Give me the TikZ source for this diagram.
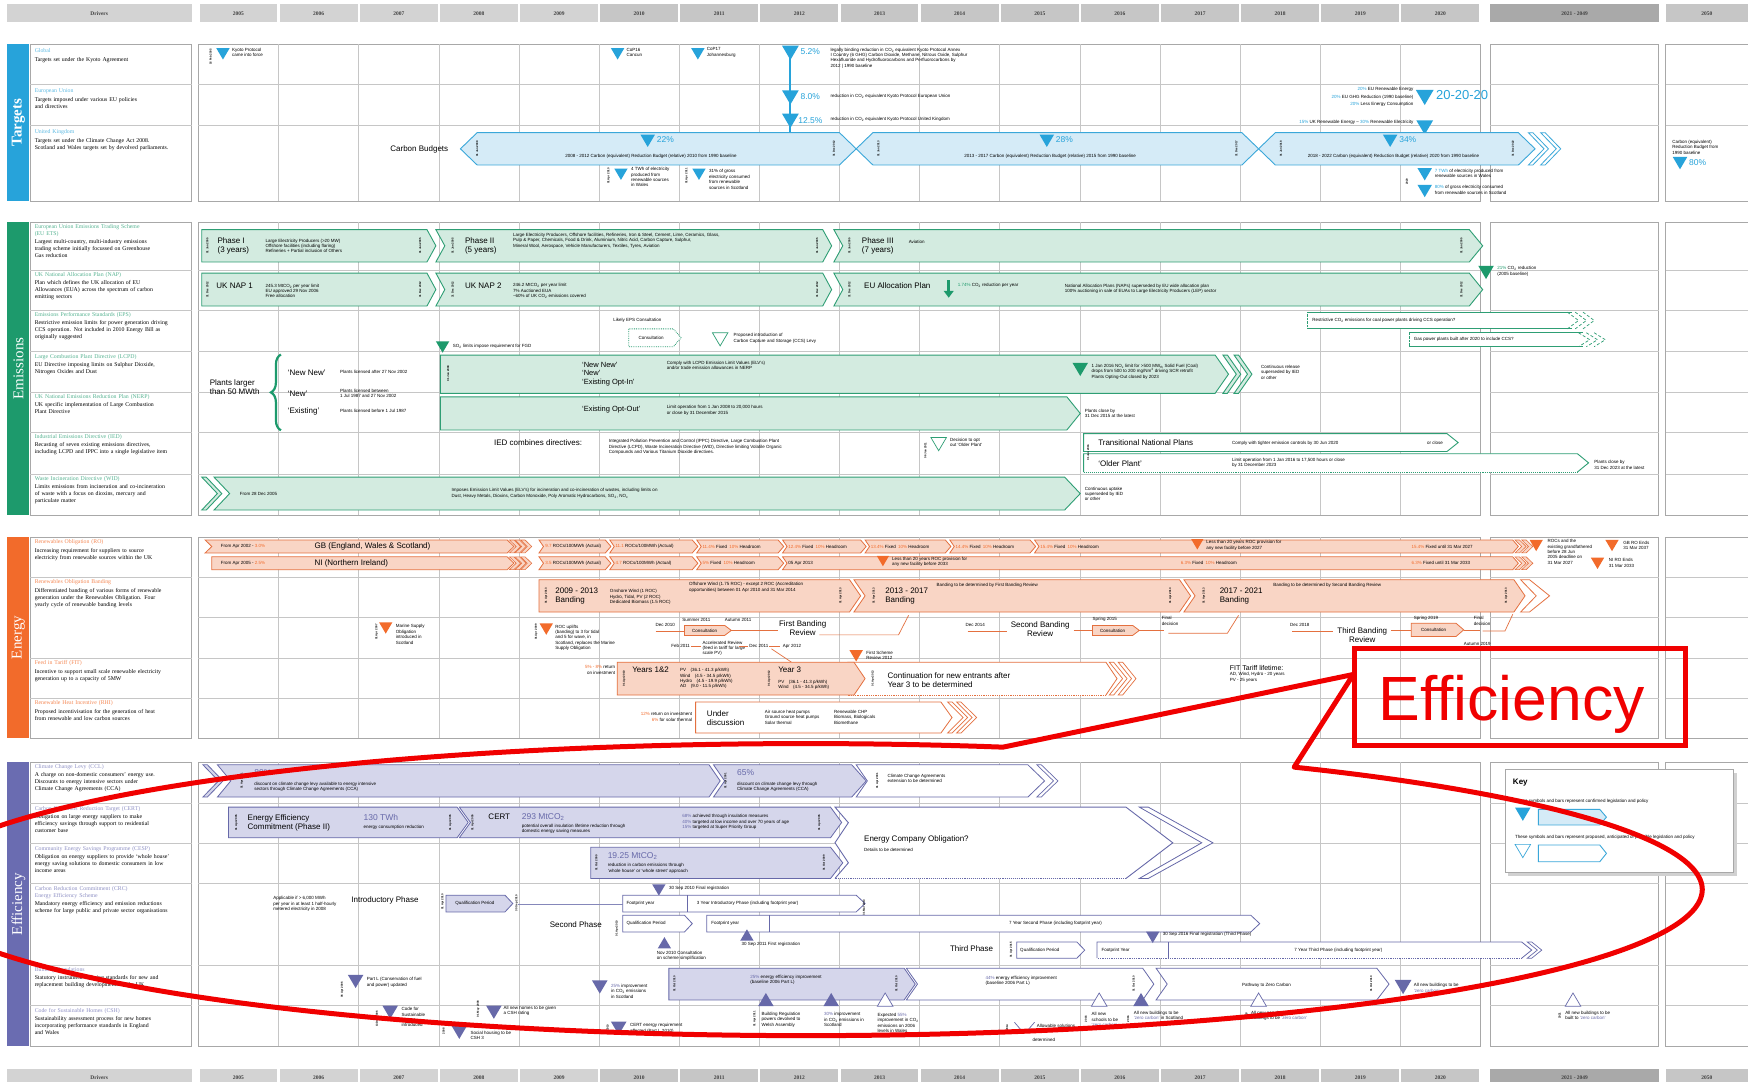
\documentclass[tikz,border=0pt]{standalone}
\usepackage{fontspec}
\setmainfont{Liberation Serif}
\setsansfont{Liberation Sans}
\usetikzlibrary{decorations.pathreplacing}
\definecolor{tbar}{HTML}{27A3DA}
\definecolor{tline}{HTML}{3AA7D9}
\definecolor{tfill}{HTML}{D5EBF7}
\definecolor{gbar}{HTML}{1D9A6C}
\definecolor{gline}{HTML}{2E9E74}
\definecolor{gfill}{HTML}{D3EBE0}
\definecolor{obar}{HTML}{F26B2B}
\definecolor{oline}{HTML}{E4703F}
\definecolor{ofill}{HTML}{F9D5C5}
\definecolor{pbar}{HTML}{6A6CB1}
\definecolor{pline}{HTML}{6769A9}
\definecolor{pfill}{HTML}{D5D6EB}
\definecolor{gridc}{HTML}{C6C6C6}
\definecolor{boxc}{HTML}{A8A8A8}
\definecolor{hdra}{HTML}{D3D3D3}
\definecolor{hdrb}{HTML}{C6C6C6}
\definecolor{hdrc}{HTML}{A9A9A9}
\definecolor{redc}{HTML}{F00000}
\newcounter{nd}
\newcommand\tri[4]{\fill[#1] ({#2-#4},{#3-0.8*#4}) -- ({#2+#4},{#3-0.8*#4}) -- (#2,{#3+0.9*#4}) -- cycle;}
\newcommand\htri[4]{\draw[#1,fill=white,line width=0.7pt] ({#2-#4},{#3-0.8*#4}) -- ({#2+#4},{#3-0.8*#4}) -- (#2,{#3+0.9*#4}) -- cycle;}
\newcommand\utri[4]{\fill[#1] ({#2-#4},{#3+0.8*#4}) -- ({#2+#4},{#3+0.8*#4}) -- (#2,{#3-0.9*#4}) -- cycle;}
\newcommand\hutri[4]{\draw[#1,fill=white,line width=0.7pt] ({#2-#4},{#3+0.8*#4}) -- ({#2+#4},{#3+0.8*#4}) -- (#2,{#3-0.9*#4}) -- cycle;}
\newcommand\chev[7]{\draw[#1] (#2,#4) -- (#3,#4) -- ({#3+(#7)},{(#4+#5)/2}) -- (#3,#5) -- (#2,#5) -- ({#2+(#6)},{(#4+#5)/2}) -- cycle;}
\newcommand\ochev[5]{\draw[#1] (#2,#3) -- ({#2+4},#3) -- ({#2+4+(#5)},{(#3+#4)/2}) -- ({#2+4},#4) -- (#2,#4) -- ({#2+(#5)},{(#3+#4)/2}) -- cycle;}
\newcommand\hdrrow[2]{%
  \fill[hdra] (6,#1) rectangle (172,#2);
  \node[hd] at (89,{(#1+#2)/2}) {Drivers};
  \foreach \yr [count=\k from 0] in {2005,...,2020}{%
    \ifnum\yr<2010 \def\hc{hdra}\else\def\hc{hdrb}\fi
    \fill[\hc] ({178+71.875*\k+1},#1) rectangle ({178+71.875*(\k+1)-1},#2);
    \node[hd] at ({178+71.875*(\k+0.5)},{(#1+#2)/2}) {\yr};}
  \fill[hdrc] (1337,#1) rectangle (1488,#2);
  \node[hd] at (1412.5,{(#1+#2)/2}) {2021 - 2049};
  \fill[hdrb] (1494,#1) rectangle (1580,#2);
  \node[hd] at (1531,{(#1+#2)/2}) {2050};}
\newcommand\secgrid[3]{%
  \draw[boxc,line width=0.7pt] (178,#1) rectangle (1328,#2);
  \foreach \k in {1,...,15}{\draw[gridc,line width=0.6pt] ({178+71.875*\k},#1) -- ({178+71.875*\k},#2);}
  \draw[boxc,line width=0.7pt] (1337,#1) rectangle (1488,#2);
  \draw[boxc,line width=0.7pt] (1494,#1) rectangle (1580,#2);
  \foreach \r in {#3}{\draw[gridc,line width=0.6pt] (178,\r) -- (1328,\r) (1337,\r) -- (1488,\r) (1494,\r) -- (1580,\r);}}
\newcommand\secdesc[3]{%
  \draw[boxc,line width=0.7pt] (27,#1) rectangle (172,#2);
  \foreach \r in {#3}{\draw[gridc,line width=0.6pt] (27,\r) -- (172,\r);}}
\newcommand\secbar[5]{%
  \fill[#3] (6,#1) rectangle (26,#2);
  \node[rotate=90,text=white,inner sep=0pt,font=#5] at (16.5,{(#1+#2)/2}) {#4};}
\begin{document}
\begin{tikzpicture}[x=1.1148pt,y=-1.1148pt,
  every node/.append style={/utils/exec={\stepcounter{nd}},name=nd\arabic{nd}},
  hd/.style={font=\rmfamily\bfseries\fontsize{5.5}{6}\selectfont,text=black!75,inner sep=0pt},
  tn/.style={font=\sffamily\fontsize{4.5}{5.4}\selectfont,inner sep=0pt,anchor=west,align=left},
  tnc/.style={tn,anchor=center,align=center},
  tne/.style={tn,anchor=east,align=right},
  lb/.style={font=\sffamily\fontsize{8}{9}\selectfont,inner sep=0pt,anchor=west,align=left},
  lbc/.style={lb,anchor=center,align=center},
  pc/.style={font=\sffamily\fontsize{8.5}{9}\selectfont,inner sep=0pt,anchor=west},
  mkst/.style={font=\sffamily\bfseries\fontsize{2.8}{3}\selectfont,rotate=90,inner sep=0pt},
  dt/.style={font=\rmfamily\fontsize{5.8}{7}\selectfont,anchor=north west,align=left,text width=156pt,inner sep=0pt},
  bandT/.style={draw=tline,fill=tfill,line width=0.9pt},
  bandG/.style={draw=gline,fill=gfill,line width=0.9pt},
  bandGw/.style={draw=gline,fill=white,line width=0.9pt},
  bandO/.style={draw=oline,fill=ofill,line width=0.8pt},
  bandOw/.style={draw=oline,fill=white,line width=0.8pt},
  bandP/.style={draw=pline,fill=pfill,line width=0.8pt},
  bandPw/.style={draw=pline,fill=white,line width=0.8pt},
  smallO/.style={draw=oline,fill=ofill,line width=0.6pt},
  oconn/.style={draw=oline,line width=0.7pt},
  pconn/.style={draw=pline!80,line width=0.8pt}]
\useasboundingbox (0,0) rectangle (1568,970);
\clip (0,0) rectangle (1568,970);
\fill[white] (0,0) rectangle (1568,970);
\hdrrow{4}{20}
\hdrrow{959}{975}
% ================= TARGETS
\secbar{39.5}{180.3}{tbar}{Targets}{\rmfamily\bfseries\fontsize{15}{15}\selectfont}
\secdesc{39.5}{180.3}{75.4,112.1}
\secgrid{39.5}{180.3}{75.4,112.1}
\node[dt] at (31,43) {\textcolor{tbar!75}{Global}\\[2pt]Targets set under the Kyoto Agreement};
\node[dt] at (31,79) {\textcolor{tbar!75}{European Union}\\[2pt]Targets imposed under various EU policies\\and directives};
\node[dt] at (31,116) {\textcolor{tbar!75}{United Kingdom}\\[2pt]Targets set under the Climate Change Act 2008.\\Scotland and Wales targets set by devolved parliaments.};
\node[mkst] at (189,51) {16 Feb 2005};
\tri{tbar}{200}{48}{6}
\node[tn] at (208,47) {Kyoto Protocol\\came into force};
\tri{tbar}{554}{48}{6}
\node[tn] at (562,47) {CoP16\\Cancun};
\tri{tbar}{626}{48}{6}
\node[tn] at (634,47) {CoP17\\Johannesburg};
\draw[tbar,line width=1.8pt] (709,48) -- (709,120);
\tri{tbar}{709}{47}{7.5}
\node[pc,text=tbar] at (718,46) {5.2\%};
\node[tn] at (745,52) {legally binding reduction in CO\textsubscript{2} equivalent Kyoto Protocol Annex\\I Country (6 GHG) Carbon Dioxide, Methane, Nitrous Oxide, Sulphur\\Hexafluoride and Hydrofluorocarbons and Perfluorocarbons by\\2012 | 1990 baseline};
\tri{tbar}{709}{87}{7.5}
\node[pc,text=tbar] at (718,87) {8.0\%};
\node[tn] at (745,86) {reduction in CO\textsubscript{2} equivalent Kyoto Protocol European Union};
\tri{tbar}{709}{108}{7.5}
\node[pc,text=tbar] at (716,108) {12.5\%};
\node[tn] at (745,107) {reduction in CO\textsubscript{2} equivalent Kyoto Protocol United Kingdom};
\tri{tbar}{1278}{87}{8}
\node[pc,text=tbar,font=\sffamily\fontsize{13}{13}\selectfont] at (1288,85) {20-20-20};
\node[tne] at (1268,80.5) {\textcolor{tbar}{20\%} EU Renewable Energy};
\node[tne] at (1268,87) {\textcolor{tbar}{20\%} EU GHG Reduction (1990 baseline)};
\node[tne] at (1268,94) {\textcolor{tbar}{20\%} Less Energy Consumption};
\node[tne] at (1268,110) {\textcolor{tbar}{15\%} UK Renewable Energy -- \textcolor{tbar}{30\%} Renewable Electricity};
\tri{tbar}{1278}{114}{7.5}
% carbon budgets
\node[lb] at (350,134) {Carbon Budgets};
\draw[bandT] (413,133.5) -- (428,119) -- (753,119) -- (768,133.5) -- (753,148) -- (428,148) -- cycle;
\draw[bandT] (768,133.5) -- (783,119) -- (1114,119) -- (1129,133.5) -- (1114,148) -- (783,148) -- cycle;
\draw[bandT] (1129,133.5) -- (1144,119) -- (1362,119) -- (1377,133.5) -- (1362,148) -- (1144,148) -- cycle;
\ochev{draw=tline,fill=white,line width=0.8pt}{1371}{119}{148}{14}
\ochev{draw=tline,fill=white,line width=0.8pt}{1382}{119}{148}{14}
\foreach \mx/\mt in {428/01 Jan 2008,748/31 Dec 2012,788/01 Jan 2013,1109/31 Dec 2017,1149/01 Jan 2018,1357/31 Dec 2022}{\node[mkst] at (\mx,133.5) {\mt};}
\tri{tbar}{581}{126}{6.5}
\node[pc,text=tbar] at (589,125.5) {22\%};
\node[tnc] at (584,140.5) {2008 - 2012 Carbon (equivalent) Reduction Budget (relative) 2010 from 1990 baseline};
\tri{tbar}{939}{126}{6.5}
\node[pc,text=tbar] at (947,125.5) {28\%};
\node[tnc] at (942,140.5) {2013 - 2017 Carbon (equivalent) Reduction Budget (relative) 2015 from 1990 baseline};
\tri{tbar}{1247}{126}{6.5}
\node[pc,text=tbar] at (1255,125.5) {34\%};
\node[tnc] at (1250,140.5) {2018 - 2022 Carbon (equivalent) Reduction Budget (relative) 2020 from 1990 baseline};
\node[mkst] at (546,158) {01 Apr 2010};
\tri{tbar}{557}{156}{6}
\node[tn] at (566,159) {4 TWh of electricity\\produced from\\renewable sources\\in Wales};
\node[mkst] at (616,158) {01 Apr 2011};
\tri{tbar}{627}{156}{6}
\node[tn] at (636,161) {31\% of gross\\electricity consumed\\from renewable\\sources in Scotland};
\node[mkst] at (1262,163) {2020};
\tri{tbar}{1278}{156}{6.5}
\node[tn] at (1287,155.5) {\textcolor{tbar}{7 TWh} of electricity produced from\\renewable sources in Wales};
\tri{tbar}{1278}{171}{6.5}
\node[tn] at (1287,170.5) {\textcolor{tbar}{80\%} of gross electricity consumed\\from renewable sources in Scotland};
\node[tn] at (1500,132) {Carbon (equivalent)\\Reduction Budget from\\1990 baseline};
\tri{tbar}{1507}{146}{6.5}
\node[pc,text=tbar] at (1515,145.5) {80\%};
% ================= EMISSIONS
\secbar{199.1}{462}{gbar}{Emissions}{\rmfamily\fontsize{15}{15}\selectfont}
\secdesc{199.1}{462}{242.2,278.1,314.9,351.6,387.5,425.2}
\secgrid{199.1}{462}{242.2,278.1,314.9,351.6,387.5,425.2}
\node[dt] at (31,201.5) {\textcolor{gbar!75}{European Union Emissions Trading Scheme\\(EU ETS)}\\[1pt]Largest multi-country, multi-industry emissions\\trading scheme initially focussed on Greenhouse\\Gas reduction};
\node[dt] at (31,244.5) {\textcolor{gbar!75}{UK National Allocation Plan (NAP)}\\[1pt]Plan which defines the UK allocation of EU\\Allowances (EUA) across the spectrum of carbon\\emitting sectors};
\node[dt] at (31,280.5) {\textcolor{gbar!75}{Emissions Performance Standards (EPS)}\\[1pt]Restrictive emission limits for power generation driving\\CCS operation. Not included in 2010 Energy Bill as\\originally suggested};
\node[dt] at (31,317.5) {\textcolor{gbar!75}{Large Combustion Plant Directive (LCPD)}\\[1pt]EU Directive imposing limits on Sulphur Dioxide,\\Nitrogen Oxides and Dust};
\node[dt] at (31,354) {\textcolor{gbar!75}{UK National Emissions Reduction Plan (NERP)}\\[1pt]UK specific implementation of Large Combustion\\Plant Directive};
\node[dt] at (31,390) {\textcolor{gbar!75}{Industrial Emissions Directive (IED)}\\[1pt]Recasting of seven existing emissions directives,\\including LCPD and IPPC into a single legislative item};
\node[dt] at (31,427.5) {\textcolor{gbar!75}{Waste Incineration Directive (WID)}\\[1pt]Limits emissions from incineration and co-incineration\\of waste with a focus on dioxins, mercury and\\particulate matter};
% EU ETS
\chev{bandG}{181}{383}{206}{235}{0}{8}
\chev{bandG}{391}{738}{206}{235}{8}{8}
\chev{bandG}{748}{1318}{206}{235}{8}{12}
\node[lb] at (195,220.5) {Phase I\\(3 years)};
\node[tn] at (238,220.5) {Large Electricity Producers (\textgreater20 MW)\\Offshore facilities (including flaring)\\Refineries + Partial inclusion of Others};
\node[lb] at (417,220.5) {Phase II\\(5 years)};
\node[tn] at (460,216) {Large Electricity Producers, Offshore facilities, Refineries, Iron \& Steel, Cement, Lime, Ceramics, Glass,\\Pulp \& Paper, Chemicals, Food \& Drink, Aluminium, Nitric Acid, Carbon Capture, Sulphur,\\Mineral Wool, Aerospace, Vehicle Manufacturers, Textiles, Tyres, Aviation};
\node[lb] at (773,220.5) {Phase III\\(7 years)};
\node[tn] at (815,217) {Aviation};
\foreach \mx in {186,377,406,733,762,1311}{\node[mkst] at (\mx,220.5) {01 Jan 2005};}
% NAP
\chev{bandG}{181}{383}{245}{274.5}{0}{8}
\chev{bandG}{391}{738}{245}{274.5}{8}{8}
\chev{bandG}{748}{1318}{245}{274.5}{8}{12}
\node[lb] at (194,256) {UK NAP 1};
\node[tn] at (238,261) {245.3 MtCO\textsubscript{2} per year limit\\EU approved 29 Nov 2006\\Free allocation};
\node[lb] at (417,256) {UK NAP 2};
\node[tn] at (460,261) {246.2 MtCO\textsubscript{2} per year limit\\7\% Auctioned EUA\\\textasciitilde60\% of UK CO\textsubscript{2} emissions covered};
\node[lb] at (775,256) {EU Allocation Plan};
\fill[gbar] (849.5,251) rectangle (852.5,261);
\fill[gbar] (846.5,261) -- (855.5,261) -- (851,267) -- cycle;
\node[tn] at (859,256) {\textcolor{gbar}{1.74\%} CO\textsubscript{2} reduction per year};
\node[tn] at (955,259) {National Allocation Plans (NAPs) superseded by EU wide allocation plan\\100\% auctioning in sale of EUAs to Large Electricity Producers (LEP) sector};
\foreach \mx in {186,377,406,733,762,1311}{\node[mkst] at (\mx,259.75) {31 Dec 2012};}
\tri{gbar}{1333}{244}{7}
\node[tn] at (1343,243.5) {\textcolor{gbar}{21\%} CO\textsubscript{2} reduction\\(2005 baseline)};
% EPS
\node[tn] at (550,287) {Likely EPS Consultation};
\draw[gline,densely dotted,fill=white,line width=0.8pt] (564,295) -- (604,295) -- (611,303) -- (604,311) -- (564,311) -- cycle;
\node[tnc] at (584,303) {Consultation};
\htri{gline}{646}{304}{7}
\node[tn] at (658,303.5) {Proposed introduction of\\Carbon Capture and Storage (CCS) Levy};
\tri{gbar}{397}{311}{6}
\node[tn] at (406,310.5) {SO\textsubscript{2} limits impose requirement for FGD};
\fill[white] (1173,280) rectangle (1410,295);
\draw[gline,line width=1pt] (1173,280) -- (1410,280) (1173,295) -- (1410,295);
\draw[gline,densely dotted] (1173,280) -- (1173,295);
\foreach \d in {0,7,14}{\draw[gline,densely dashed,line width=0.7pt] ({1406+\d},280) -- ({1416+\d},287.5) -- ({1406+\d},295);}
\node[tn] at (1177,287.5) {Restrictive CO\textsubscript{2} emissions for coal power plants driving CCS operation?};
\fill[white] (1264,298.5) rectangle (1420,311);
\draw[gline,line width=1pt] (1264,298.5) -- (1420,298.5) (1264,311) -- (1420,311);
\draw[gline,densely dotted] (1264,298.5) -- (1264,311);
\foreach \d in {0,7,14}{\draw[gline,densely dashed,line width=0.7pt] ({1416+\d},298.5) -- ({1426+\d},304.75) -- ({1416+\d},311);}
\node[tn] at (1268,304.75) {Gas power plants built after 2020 to include CCS?};
% LCPD / NERP
\node[lb] at (188,347) {Plants larger\\than 50 MWth};
\draw[gbar,line width=2.2pt,decorate,decoration={brace,amplitude=10pt}] (252,386) -- (252,318);
\node[lb] at (258,334) {`New New'};
\node[lb] at (258,353) {`New'};
\node[lb] at (258,369) {`Existing'};
\node[tn] at (305,334) {Plants licensed after 27 Nov 2002};
\node[tn] at (305,353) {Plants licensed between\\1 Jul 1987 and 27 Nov 2002};
\node[tn] at (305,369) {Plants licensed before 1 Jul 1987};
\chev{bandG}{395}{1090}{318.5}{352.8}{0}{12}
\ochev{bandG}{1097}{318.5}{352.8}{12}
\ochev{bandG}{1107}{318.5}{352.8}{12}
\chev{bandG}{395}{957}{356}{385.7}{0}{12}
\node[mkst] at (402,335) {01 Jan 2008};
\node[lb,font=\sffamily\fontsize{7.5}{8.5}\selectfont] at (522,335.5) {`New New'\\`New'\\`Existing Opt-In'};
\node[tn] at (598,328) {Comply with LCPD Emission Limit Values (ELV's)\\and/or trade emission allowances in NERP};
\tri{gbar}{969}{331}{7}
\node[tn] at (979,333.5) {1 Jan 2016 NO\textsubscript{x} limit for \textgreater500 MW\textsubscript{th} Solid Fuel (Coal)\\drops from 500 to 200 mg/Nm\textsuperscript{3} driving SCR retrofit\\Plants Opting-Out closed by 2023};
\node[tn] at (1131,334) {Continuous release\\superseded by IED\\or other};
\node[lb,font=\sffamily\fontsize{7.5}{8.5}\selectfont] at (522,367) {`Existing Opt-Out'};
\node[tn] at (598,368) {Limit operation from 1 Jan 2008 to 20,000 hours\\or close by 31 December 2015};
\node[tn] at (973,371) {Plants close by\\31 Dec 2015 at the latest};
% IED
\node[lb] at (443,397) {IED combines directives:};
\node[tn] at (546,401) {Integrated Pollution Prevention and Control (IPPC) Directive, Large Combustion Plant\\Directive (LCPD), Waste Incineration Directive (WID), Directive limiting Volatile Organic\\Compounds and Various Titanium Dioxide directives.};
\node[mkst] at (830,404) {06 Jan 2011};
\htri{gline}{842}{398}{7}
\node[tn] at (852,397) {Decision to opt\\out `Older Plant'};
\chev{bandGw}{972}{1298}{389}{405}{0}{10}
\fill[white] (972,407) -- (1415,407) -- (1425,415.2) -- (1415,423.4) -- (972,423.4) -- cycle;
\draw[gline,line width=0.9pt] (972,423.4) -- (972,407) -- (1415,407) -- (1425,415.2) -- (1415,423.4);
\draw[gline,densely dotted,line width=0.9pt] (1415,423.4) -- (972,423.4);
\node[mkst] at (976,406) {01 Jan 2016};
\node[lb] at (985,397) {Transitional National Plans};
\node[tn] at (1105,397.5) {Comply with tighter emission controls by 30 Jun 2020};
\node[tn] at (1280,397.5) {or close};
\node[lb] at (985,415.5) {`Older Plant'};
\node[tn] at (1105,415) {Limit operation from 1 Jan 2016 to 17,500 hours or close\\by 31 December 2023};
\node[tn] at (1430,417) {Plants close by\\31 Dec 2023 at the latest};
% WID
\ochev{bandG}{181}{428}{457.5}{14}
\chev{bandG}{192}{955}{428}{457.5}{14}{14}
\node[tn] at (215,443) {From 28 Dec 2005};
\node[tn] at (405,442.5) {Imposes Emission Limit Values (ELV's) for incineration and co-incineration of wastes, including limits on\\Dust, Heavy Metals, Dioxins, Carbon Monoxide, Poly Aromatic Hydrocarbons, SO\textsubscript{2}, NO\textsubscript{x}};
\node[tn] at (973,443) {Continuous uptake\\superseded by IED\\or other};
% ================= ENERGY
\secbar{481.7}{662}{obar}{Energy}{\rmfamily\fontsize{15}{15}\selectfont}
\secdesc{481.7}{662}{517.6,590.2,626.1}
\secgrid{481.7}{662}{517.6,553.5,590.2,626.1}
\node[dt] at (31,484) {\textcolor{obar!80}{Renewables Obligation (RO)}\\[2pt]Increasing requirement for suppliers to source\\electricity from renewable sources within the UK};
\node[dt] at (31,520) {\textcolor{obar!80}{Renewables Obligation Banding}\\[2pt]Differentiated banding of various forms of renewable\\generation under the Renewables Obligation. Four\\yearly cycle of renewable banding levels};
\node[dt] at (31,592.5) {\textcolor{obar!80}{Feed in Tariff (FIT)}\\[2pt]Incentive to support small scale renewable electricity\\generation up to a capacity of 5MW};
\node[dt] at (31,628.5) {\textcolor{obar!80}{Renewable Heat Incentive (RHI)}\\[2pt]Proposed incentivisation for the generation of heat\\from renewable and low carbon sources};
% RO
\draw[bandO] (184,484.4) -- (455,484.4) -- (461,490.2) -- (455,496) -- (184,496) -- (190,490.2) -- cycle;
\draw[bandO] (190,499.5) -- (455,499.5) -- (461,505.2) -- (455,511) -- (190,511) -- cycle;
\foreach \xx in {457,462,467}{\ochev{smallO}{\xx}{484.4}{496}{6}\ochev{smallO}{\xx}{499.5}{511}{6}}
\node[tn] at (198,490.2) {From Apr 2002 - \textcolor{obar}{3.0\%}};
\node[lb] at (282,490.2) {GB (England, Wales \& Scotland)};
\node[tn] at (198,505.2) {From Apr 2005 - \textcolor{obar}{2.5\%}};
\node[lb] at (282,505.2) {NI (Northern Ireland)};
\foreach \a/\b in {483.5/543,547/621,625/698,702/772,776/848,852/924,928/1357}{\chev{bandO}{\a}{\b}{484.4}{496}{4}{5}}
\foreach \a/\b in {483.5/543,547/621,625/698,702/1357}{\chev{bandO}{\a}{\b}{499.5}{511}{4}{5}}
\foreach \xx in {1359,1365}{\ochev{smallO}{\xx}{484.4}{496}{6}\ochev{smallO}{\xx}{499.5}{511}{6}}
\node[tn] at (489,490.2) {\textcolor{obar}{9.7} ROCs/100MWh (Actual)};
\node[tn] at (552,490.2) {\textcolor{obar}{11.1} ROCs/100MWh (Actual)};
\node[tn] at (630,490.2) {\textcolor{obar}{11.4\%} Fixed\enspace\textcolor{obar}{10\%} Headroom};
\node[tn] at (707,490.2) {\textcolor{obar}{12.4\%} Fixed\enspace\textcolor{obar}{10\%} Headroom};
\node[tn] at (781,490.2) {\textcolor{obar}{13.4\%} Fixed\enspace\textcolor{obar}{10\%} Headroom};
\node[tn] at (857,490.2) {\textcolor{obar}{14.4\%} Fixed\enspace\textcolor{obar}{10\%} Headroom};
\node[tn] at (933,490.2) {\textcolor{obar}{15.4\%} Fixed\enspace\textcolor{obar}{10\%} Headroom};
\tri{obar}{1074}{488}{5.5}
\node[tn] at (1082,489) {Less than 20 years ROC provision for\\any new facility before 2027};
\node[tn] at (1266,490.2) {\textcolor{obar}{15.4\%} Fixed until 31 Mar 2027};
\node[tn] at (489,505.2) {\textcolor{obar}{3.5} ROCs/100MWh (Actual)};
\node[tn] at (552,505.2) {\textcolor{obar}{4.7} ROCs/100MWh (Actual)};
\node[tn] at (630,505.2) {\textcolor{obar}{5\%} Fixed\enspace\textcolor{obar}{10\%} Headroom};
\node[tn] at (707,505.2) {05 Apr 2013};
\tri{obar}{792}{503}{5.5}
\node[tn] at (800,504) {Less than 20 years ROC provision for\\any new facility before 2033};
\node[tn] at (1059,505.2) {\textcolor{obar}{6.3\%} Fixed\enspace\textcolor{obar}{10\%} Headroom};
\node[tn] at (1266,505.2) {\textcolor{obar}{6.3\%} Fixed until 31 Mar 2033};
\tri{obar}{1378}{489}{6}
\node[tn] at (1388,495) {ROCs and the\\existing grandfathered\\before 28 Jun\\2005 deadline on\\31 Mar 2027};
\tri{obar}{1446}{489}{6}
\node[tn] at (1456,489) {GB RO Ends\\31 Mar 2037};
\tri{obar}{1433}{505}{6}
\node[tn] at (1443,505) {NI RO Ends\\31 Mar 2033};
% RO banding
\chev{bandO}{483.5}{762}{520}{549}{0}{10}
\chev{bandO}{766}{1058}{520}{549}{10}{10}
\chev{bandO}{1062}{1358}{520}{549}{10}{10}
\draw[oline,fill=white,line width=0.8pt] (1364,520) -- (1372,520) -- (1390,534.5) -- (1372,549) -- (1364,549) -- (1378,534.5) -- cycle;
\foreach \mx in {490,754,784,1050,1080,1351}{\node[mkst] at (\mx,534.5) {01 Apr 2013};}
\node[lb] at (498,534.5) {2009 - 2013\\Banding};
\node[tn] at (547,535.5) {Onshore Wind (1 ROC)\\Hydro, Tidal, PV (2 ROC)\\Dedicated Biomass (1.5 ROC)};
\node[tn] at (618,527) {Offshore Wind (1.75 ROC) - except 2 ROC (Accreditation\\opportunities) between 01 Apr 2010 and 31 Mar 2014};
\node[lb] at (794,534.5) {2013 - 2017\\Banding};
\node[tn] at (840,525) {Banding to be determined by First Banding Review};
\node[lb] at (1094,534.5) {2017 - 2021\\Banding};
\node[tn] at (1142,525) {Banding to be determined by Second Banding Review};
% banding reviews
\node[mkst] at (338,567) {01 Apr 2007};
\tri{obar}{346}{563}{6}
\node[tn] at (355,569) {Marine Supply\\Obligation\\introduced in\\Scotland};
\node[mkst] at (481,567) {01 Apr 2009};
\tri{obar}{490}{564}{6}
\node[tn] at (498,572) {ROC uplifts\\(banding) to 3 for tidal\\and 5 for wave, in\\Scotland, replaces the Marine\\Supply Obligation};
\node[tn] at (588,560.5) {Dec 2010};
\draw[oconn] (588,566) -- (614,566);
\node[tn] at (612,556) {Summer 2011};
\node[tn] at (650,556) {Autumn 2011};
\draw[bandO] (614,561) -- (650,561) -- (656,565.5) -- (650,570) -- (614,570) -- cycle;
\node[tnc] at (632,565.5) {Consultation};
\draw[oconn] (656,565.5) -- (698,565.5);
\node[lbc] at (720,563.5) {First Banding\\Review};
\draw[oconn] (735,569.5) -- (806,569.5) -- (815,552);
\node[tn] at (602,579.5) {Feb 2011};
\draw[oconn] (620,579.5) -- (629,579.5);
\node[tn] at (630,581.5) {Accelerated Review\\(feed in tariff for large\\scale PV)};
\draw[oconn] (663,579.5) -- (671,579.5);
\node[tn] at (672,579.5) {Dec 2011};
\draw[oconn] (690,579.5) -- (700,579.5);
\node[tn] at (702,579.5) {Apr 2012};
\draw[oconn] (692,582) -- (710,594);
\node[tn] at (866,561) {Dec 2014};
\draw[oconn] (868,566) -- (903,566);
\node[lbc] at (933,564) {Second Banding\\Review};
\draw[oconn] (963,565.5) -- (980,565.5);
\node[tn] at (980,556) {Spring 2015};
\draw[bandO] (980,561) -- (1016,561) -- (1022,565.5) -- (1016,570) -- (980,570) -- cycle;
\node[tnc] at (998,565.5) {Consultation};
\draw[oconn] (1022,565.5) -- (1044,565.5);
\node[tn] at (1042,557) {Final\\decision};
\draw[oconn] (1048,568) -- (1101,568) -- (1111,552);
\node[tn] at (1157,561) {Dec 2018};
\draw[oconn] (1159,566) -- (1196,566);
\node[lbc] at (1222,570) {Third Banding\\Review};
\draw[oconn] (1248,565.5) -- (1266,565.5);
\node[tn] at (1268,555) {Spring 2019};
\draw[bandO] (1266,559) -- (1306,559) -- (1313,565) -- (1306,571) -- (1266,571) -- cycle;
\node[tnc] at (1286,565) {Consultation};
\draw[oconn] (1313,565) -- (1328,565);
\node[tn] at (1322,557) {Final\\decision};
\draw[oconn] (1330,566) -- (1350,566) -- (1357,551);
\node[tn] at (1313,578) {Autumn 2019};
% FIT
\node[tne] at (552,601) {\textcolor{obar}{5\% - 8\%} return\\on investment};
\fill[white] (760,594) -- (992,594) -- (1002,608.75) -- (992,623.5) -- (760,623.5) -- cycle;
\draw[oline,line width=0.8pt] (760,594) -- (992,594) -- (1002,608.75) -- (992,623.5);
\draw[oline,densely dotted,line width=0.8pt] (992,623.5) -- (760,623.5);
\ochev{draw=oline,fill=white,line width=0.7pt}{995}{594}{623.5}{12}
\ochev{draw=oline,fill=white,line width=0.7pt}{1003}{594}{623.5}{12}
\chev{bandO}{553.6}{766}{594}{623.5}{0}{10}
\node[mkst] at (560,608.75) {01 Apr 2010};
\node[lb] at (567,601) {Years 1\&2};
\node[tn] at (610,608.75) {PV\quad(36.1 - 41.3 p/kWh)\\Wind\quad(4.5 - 34.5 p/kWh)\\Hydro\quad(4.5 - 19.9 p/kWh)\\AD\quad(9.0 - 11.5 p/kWh)};
\node[mkst] at (690,608.75) {01 Apr 2012};
\node[lb] at (698,601) {Year 3};
\node[tn] at (698,614.5) {PV\quad(36.1 - 41.3 p/kWh)\\Wind\quad(4.5 - 34.5 p/kWh)};
\tri{obar}{768}{588}{6}
\node[tn] at (777,588) {First Scheme\\Review 2012};
\node[mkst] at (783,608.75) {01 Apr 2013};
\node[lb] at (796,610) {Continuation for new entrants after\\Year 3 to be determined};
\node[tn] at (1103,604.5) {{\fontsize{7}{8}\selectfont FIT Tariff lifetime:}\\AD, Wind, Hydro - 20 years\\PV - 25 years};
% RHI
\node[tne] at (621,643) {\textcolor{obar}{12\%} return on investment\\\textcolor{obar}{6\%} for solar thermal};
\ochev{draw=oline,fill=white,line width=0.7pt}{850}{629.7}{657.6}{14}
\ochev{draw=oline,fill=white,line width=0.7pt}{858}{629.7}{657.6}{14}
\chev{bandOw}{624}{844}{629.7}{657.6}{0}{10}
\node[lb] at (634,644) {Under\\discussion};
\node[tn] at (686,643.5) {Air source heat pumps\\Ground source heat pumps\\Solar thermal};
\node[tn] at (748,643.5) {Renewable CHP\\Biomass, Biologicals\\Biomethane};
% ================= EFFICIENCY
\secbar{683.5}{938.3}{pbar}{Efficiency}{\rmfamily\fontsize{15}{15}\selectfont}
\secdesc{683.5}{938.3}{720.3,756.2,792.1,865.6,901.5}
\secgrid{683.5}{938.3}{720.3,756.2,792.1,865.6,901.5}
\node[dt] at (31,686) {\textcolor{pbar!75}{Climate Change Levy (CCL)}\\[1pt]A charge on non-domestic consumers' energy use.\\Discounts to energy intensive sectors under\\Climate Change Agreements (CCA)};
\node[dt] at (31,722.8) {\textcolor{pbar!75}{Carbon Emissions Reduction Target (CERT)}\\[1pt]Obligation on large energy suppliers to make\\efficiency savings through support to residential\\customer base};
\node[dt] at (31,758.7) {\textcolor{pbar!75}{Community Energy Savings Programme (CESP)}\\[1pt]Obligation on energy suppliers to provide `whole house'\\energy saving solutions to domestic consumers in low\\income areas};
\node[dt] at (31,794.6) {\textcolor{pbar!75}{Carbon Reduction Commitment (CRC)\\Energy Efficiency Scheme}\\[1pt]Mandatory energy efficiency and emission reductions\\scheme for large public and private sector organisations};
\node[dt] at (31,868.1) {\textcolor{pbar!75}{Building Regulations}\\[1pt]Statutory instrument defining standards for new and\\replacement building developments in the UK};
\node[dt] at (31,904) {\textcolor{pbar!75}{Code for Sustainable Homes (CSH)}\\[1pt]Sustainability assessment process for new homes\\incorporating performance standards in England\\and Wales};
% CCL
\ochev{bandP}{182}{686}{715}{14}
\chev{bandP}{195}{636}{686}{715}{12}{10}
\chev{bandP}{640}{764}{686}{715}{10}{13}
\ochev{draw=pline,fill=white,line width=0.7pt}{930}{686}{715}{15}
\chev{bandPw}{768}{922}{686}{715}{10}{15}
\foreach \mx in {217,651,787}{\node[mkst] at (\mx,700.5) {01 Apr 2001};}
\node[pc,text=pline] at (228,693) {80\%};
\node[tn] at (228,706) {discount on climate change levy available to energy intensive\\sectors through Climate Change Agreements (CCA)};
\node[pc,text=pline] at (661,693) {65\%};
\node[tn] at (661,706) {discount on climate change levy through\\Climate Change Agreements (CCA)};
\node[tn] at (796,698) {Climate Change Agreements\\extension to be determined};
% ECO
\fill[white] (749,724) -- (1010,724) -- (1052,756) -- (1010,788) -- (749,788) -- (761,774) -- (749,756) -- (761,738) -- cycle;
\draw[pline,line width=0.9pt] (749,788) -- (761,774) -- (749,756) -- (761,738) -- (749,724) -- (1010,724) -- (1052,756) -- (1010,788);
\draw[pline,densely dotted,line width=0.9pt] (1010,788) -- (749,788);
\draw[pline,fill=white,line width=0.8pt] (1022,724) -- (1030,724) -- (1088,756) -- (1030,788) -- (1022,788) -- (1078,756) -- cycle;
\node[lb] at (775,752.6) {Energy Company Obligation?};
\node[tn] at (775,762.6) {Details to be determined};
% CERT
\chev{bandP}{205}{410}{724}{751.5}{0}{10}
\chev{bandP}{412}{745}{724}{751.5}{10}{10}
\foreach \mx in {212,404,424,735}{\node[mkst] at (\mx,738) {01 Apr 2005};}
\node[lb] at (222,738) {Energy Efficiency\\Commitment (Phase II)};
\node[pc,text=pline] at (326,733) {130 TWh};
\node[tn] at (326,742) {energy consumption reduction};
\node[lb] at (438,733) {CERT};
\node[pc,text=pline] at (468,733) {293 MtCO\textsubscript{2}};
\node[tn] at (468,743.5) {potential overall insulation lifetime reduction through\\domestic energy saving measures};
\node[tn] at (612,737.5) {\textcolor{pline}{68\%} achieved through insulation measures\\\textcolor{pline}{40\%} targeted at low income and over 70 years of age\\\textcolor{pline}{15\%} targeted at Super Priority Group};
% CESP
\chev{bandP}{530}{745}{760}{788}{0}{11}
\foreach \mx in {535,739}{\node[mkst] at (\mx,774) {01 Oct 2009};}
\node[pc,text=pline] at (545,768) {19.25 MtCO\textsubscript{2}};
\node[tn] at (545,779) {reduction in carbon emissions through\\`whole house' or `whole street' approach};
% CRC
\node[tn] at (245,811) {Applicable if \textgreater\ 6,000 MWh\\per year in at least 1 half-hourly\\metered electricity in 2008};
\node[lb] at (315,807.5) {Introductory Phase};
\node[mkst] at (397,809) {01 Apr 2010};
\chev{bandP}{400}{453}{803}{818}{0}{7}
\node[tnc] at (426,810.5) {Qualification Period};
\node[mkst] at (463.5,810) {30 Sep 2010};
\draw[pconn] (465,811) -- (558.6,811);
\tri{pline}{591}{798}{6}
\node[tn] at (600,797) {30 Sep 2010 Final registration};
\chev{bandPw}{558.6}{768}{803}{818}{0}{8}
\draw[pline,line width=0.8pt] (617,803) -- (617,818);
\node[tn] at (562,810.5) {Footprint year};
\node[tn] at (625,810.5) {3 Year Introductory Phase (including footprint year)};
\node[mkst] at (775,814) {31 Mar 2013};
\node[lb] at (493,829.7) {Second Phase};
\node[mkst] at (553.5,833) {01 Apr 2010};
\chev{bandPw}{558.6}{614}{821}{836}{0}{7}
\node[tn] at (562,828.5) {Qualification Period};
\chev{bandPw}{634}{1122}{821}{836}{0}{8}
\draw[pline,line width=0.8pt] (690.6,821) -- (690.6,836);
\node[tn] at (638,828.5) {Footprint year};
\node[tn] at (905,828.5) {7 Year Second Phase (including footprint year)};
\utri{pline}{596}{846}{6}
\node[tn] at (589,857.5) {Nov 2010 Consultation\\on scheme simplification};
\utri{pline}{670}{839}{6}
\node[tn] at (665,847.5) {30 Sep 2011 First registration};
\node[lb] at (852,850.6) {Third Phase};
\node[mkst] at (907,852) {01 Apr 2015};
\chev{bandPw}{912}{966}{845}{859.5}{0}{7}
\node[tn] at (915,852.2) {Qualification Period};
\fill[white] (984,845) -- (1365,845) -- (1374,852.2) -- (1365,859.5) -- (984,859.5) -- cycle;
\draw[pline,line width=0.8pt] (984,859.5) -- (984,845) -- (1365,845) -- (1374,852.2) -- (1365,859.5);
\draw[pline,densely dotted,line width=0.8pt] (1365,859.5) -- (984,859.5);
\draw[pline,line width=0.8pt] (1048,845) -- (1048,859.5);
\ochev{draw=pline,fill=white,line width=0.7pt}{1370}{845}{859.5}{9}
\node[tn] at (988,852.2) {Footprint Year};
\node[tn] at (1161,852.2) {7 Year Third Phase (including footprint year)};
\tri{pline}{1034}{840.5}{6}
\node[tn] at (1043,838.5) {30 Sep 2016 Final registration (Third Phase)};
% Building regulations
\node[mkst] at (307,888) {06 Apr 2006};
\tri{pline}{319}{880}{7}
\node[tn] at (329,881) {Part L (Conservation of fuel\\and power) updated};
\tri{pline}{538}{885}{7}
\node[tn] at (548,889) {\textcolor{pline}{25\%} improvement\\in CO\textsubscript{2} emissions\\in Scotland};
\chev{bandP}{600}{811}{868.5}{897}{0}{10}
\chev{bandPw}{813}{1025}{868.5}{897}{10}{10}
\chev{bandPw}{1037}{1235}{868.5}{897}{10}{11}
\foreach \mx in {605,804,1017,1230}{\node[mkst] at (\mx,882.7) {01 Oct 2010};}
\node[tn] at (673,879) {\textcolor{pline}{25\%} energy efficiency improvement\\(baseline 2006 Part L)};
\node[tn] at (884,880) {\textcolor{pline}{44\%} energy efficiency improvement\\(baseline 2006 Part L)};
\node[tnc] at (1136,883.5) {Pathway to Zero Carbon};
\tri{pline}{1258.6}{885}{7.5}
\node[tn] at (1268,886) {All new buildings to be\\\textcolor{pline}{`zero carbon'}};
\utri{pline}{687}{897}{7}
\utri{pline}{745.6}{897}{7}
\hutri{pline}{794}{897}{7}
\hutri{pline}{986}{897}{7}
\utri{pline}{1023.5}{897}{7}
\hutri{pline}{1129}{897}{7}
\hutri{pline}{1411}{897}{7}
\node[mkst] at (677,914) {01 Apr 2011};
\node[tn] at (683,914.5) {Building Regulation\\powers devolved to\\Welsh Assembly};
\node[tn] at (739,914.5) {\textcolor{pline}{30\%} improvement\\in CO\textsubscript{2} emissions in\\Scotland};
\node[tn] at (787,917.5) {Expected \textcolor{pline}{55\%}\\improvement in CO\textsubscript{2}\\emissions on 2006\\levels in Wales};
\node[mkst] at (974,914) {2016};
\node[tn] at (979,914.5) {All new\\schools to be\\\textcolor{pline}{`zero carbon'}};
\node[mkst] at (1012,914) {2016};
\node[tn] at (1017,911) {All new buildings to be\\\textcolor{pline}{`zero carbon'} in Scotland};
\node[mkst] at (1118,911) {2018};
\node[tn] at (1122,911) {All new non-domestic\\buildings to be \textcolor{pline}{`zero carbon'}};
\node[mkst] at (1399,911) {2021};
\node[tn] at (1404,911) {All new buildings to be\\built to \textcolor{pline}{`zero carbon'}};
% Code for sustainable homes
\node[mkst] at (338,914) {13 Dec 2006};
\tri{pline}{350}{907.6}{7}
\node[tn] at (360,912.5) {Code for\\Sustainable\\Homes\\introduced};
\node[mkst] at (429,905) {01 May 2008};
\tri{pline}{443}{907.6}{7}
\node[tn] at (451.5,906.7) {All new homes to be given\\a CSH rating};
\node[mkst] at (398,925) {2008};
\tri{pline}{412}{925.6}{7}
\node[tn] at (422,928.5) {Social housing to be\\CSH 3};
\node[mkst] at (545,922) {2010};
\tri{pline}{555}{922}{7}
\node[tn] at (565,922.5) {CERT energy requirement\\affected (Part L 2010)};
\node[mkst] at (903.5,922) {2014};
\draw[pline,line width=0.7pt] (910,917) -- (916,924) -- (922,924) -- (928,917);
\node[tn] at (930,920.5) {Allowable solutions};
\node[tn] at (926,933) {determined};
% ================= KEY
\fill[black!18] (1353,693.5) rectangle (1558,786);
\draw[boxc,fill=white,line width=0.8pt] (1350,690.5) rectangle (1555,783);
\node[lb,font=\sffamily\bfseries\fontsize{8}{9}\selectfont] at (1357,701.6) {Key};
\node[tn] at (1359,719) {These symbols and bars represent confirmed legislation and policy};
\tri{tbar}{1366}{730}{7}
\draw[bandT] (1380,726) -- (1435,726) -- (1441,733) -- (1435,740) -- (1380,740) -- cycle;
\node[tn] at (1359,751) {These symbols and bars represent proposed, anticipated or possible legislation and policy};
\htri{tline}{1366}{763}{7}
\draw[tline,fill=white,line width=0.9pt] (1380,758) -- (1435,758) -- (1441,765.5) -- (1435,773) -- (1380,773) -- cycle;
% ================= RED ANNOTATION
\draw[redc,line width=5pt,line join=round] plot[domain=-57:282.7,samples=180,smooth] ({723+804*cos(\x)},{798+131*sin(\x)}) -- (1214,605) -- cycle;
\draw[redc,line width=5pt] (1215,582) rectangle (1512,668.5);
\node[text=redc,font=\sffamily\fontsize{62.5}{62.5}\selectfont,inner sep=0pt,anchor=base] at (1356,646) {Efficiency};
\end{tikzpicture}
\end{document}
